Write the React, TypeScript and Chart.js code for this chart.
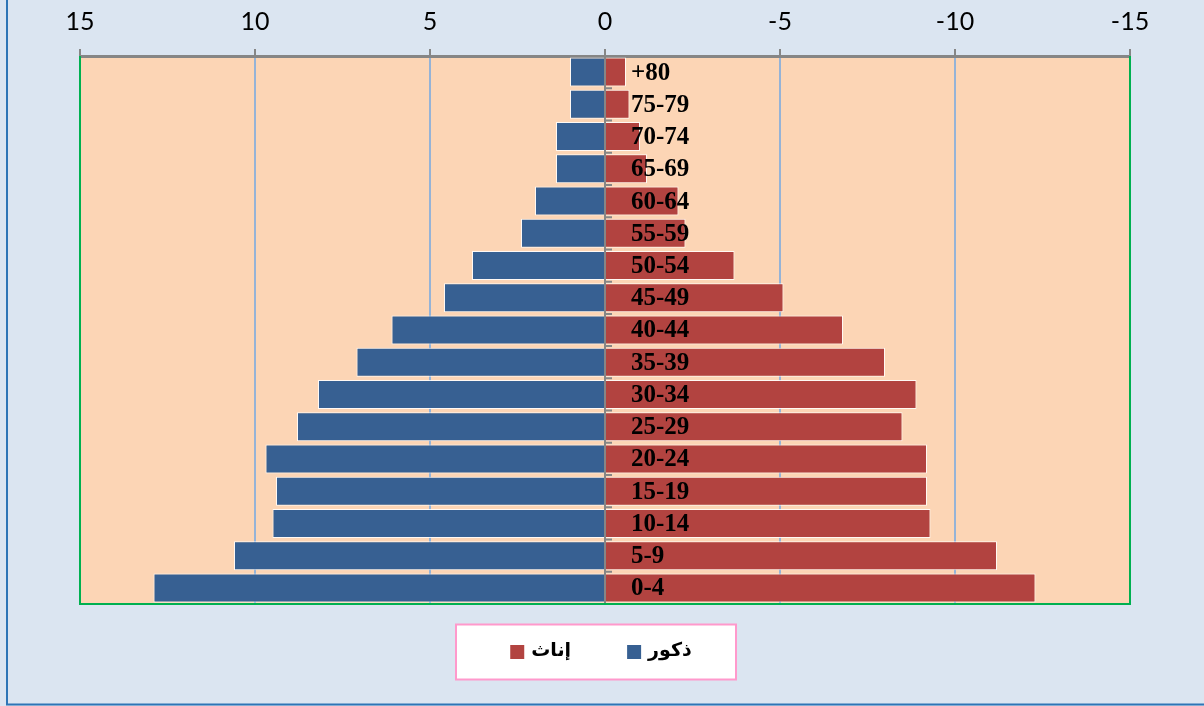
import React, { useEffect, useRef } from "react";
import { Chart, registerables } from "chart.js";

Chart.register(...registerables);

// Age groups (bottom to top)
const ageGroups = [
  "0-4", "5-9", "10-14", "15-19", "20-24", "25-29", "30-34", "35-39",
  "40-44", "45-49", "50-54", "55-59", "60-64", "65-69", "70-74", "75-79", "+80",
];
// Males (shown to the left, positive values)
const males = [12.9, 10.6, 9.5, 9.4, 9.7, 8.8, 8.2, 7.1, 6.1, 4.6, 3.8, 2.4, 2.0, 1.4, 1.4, 1.0, 1.0];
// Females (shown to the right, negative values)
const females = [-12.3, -11.2, -9.3, -9.2, -9.2, -8.5, -8.9, -8.0, -6.8, -5.1, -3.7, -2.3, -2.1, -1.2, -1.0, -0.7, -0.6];

const maleLabel = "ذكور";
const femaleLabel = "إناث";

const axisMin = -15;
const axisMax = 15;
const axisStep = 5;

const MALE_COLOR = "#376092";
const FEMALE_COLOR = "#B24340";

const decorPlugin = {
  id: "decor",
  beforeDraw(chart: any) {
    const { ctx, width, height, chartArea: a } = chart;
    ctx.save();
    ctx.fillStyle = "#DBE5F1";
    ctx.fillRect(0, 0, width, height);
    // outer frame (left and bottom edges visible)
    ctx.strokeStyle = "#2E75B6";
    ctx.lineWidth = 2;
    ctx.beginPath();
    ctx.moveTo(7, 0);
    ctx.lineTo(7, height - 1.5);
    ctx.lineTo(width, height - 1.5);
    ctx.stroke();
    // plot area
    ctx.fillStyle = "#FCD5B5";
    ctx.fillRect(a.left, a.top, a.right - a.left, a.bottom - a.top);
    ctx.restore();
  },
  afterDatasetsDraw(chart: any) {
    const { ctx, chartArea: a } = chart;
    const xs = chart.scales.x;
    const ys = chart.scales.y;
    const x0 = xs.getPixelForValue(0);
    const n = chart.data.labels.length;
    ctx.save();
    // zero axis line
    ctx.strokeStyle = "#868686";
    ctx.lineWidth = 2;
    ctx.beginPath();
    ctx.moveTo(x0, a.top);
    ctx.lineTo(x0, a.bottom);
    ctx.stroke();
    // small tick marks at category boundaries
    ctx.beginPath();
    for (let i = 0; i <= n; i++) {
      const yb = ys.getPixelForValue(i - 0.5);
      ctx.moveTo(x0, yb);
      ctx.lineTo(x0 + 7, yb);
    }
    ctx.stroke();
    // green plot border (left, bottom, right)
    ctx.strokeStyle = "#00B050";
    ctx.lineWidth = 2;
    ctx.beginPath();
    ctx.moveTo(a.left, a.top);
    ctx.lineTo(a.left, a.bottom);
    ctx.lineTo(a.right, a.bottom);
    ctx.lineTo(a.right, a.top);
    ctx.stroke();
    // category labels right of the zero axis
    ctx.fillStyle = "#000";
    ctx.font = 'bold 25px "Liberation Serif", "Times New Roman", serif';
    ctx.textAlign = "left";
    ctx.textBaseline = "middle";
    chart.data.labels.forEach((lab: string, i: number) => {
      ctx.fillText(lab, x0 + 26, ys.getPixelForValue(i) + 1);
    });
    ctx.restore();
  },
  afterDraw(chart: any) {
    const { ctx, chartArea: a } = chart;
    const items = chart.data.datasets.map((ds: any) => ({ text: ds.label, color: ds.backgroundColor }));
    ctx.save();
    ctx.font = 'bold 19px "DejaVu Sans", sans-serif';
    const box = 14;
    const gapBT = 7;
    const gapItems = 56;
    const widths = items.map((it: any) => box + gapBT + ctx.measureText(it.text).width);
    const total = widths.reduce((s: number, w: number) => s + w, 0) + gapItems * (items.length - 1);
    const cx = (a.left + a.right) / 2 - 4;
    const cy = a.bottom + 48;
    // legend frame
    const bw = 280;
    const bh = 55;
    const bcx = cx - 5;
    ctx.fillStyle = "#FFFFFF";
    ctx.fillRect(bcx - bw / 2, cy - bh / 2, bw, bh);
    ctx.strokeStyle = "#FF99CC";
    ctx.lineWidth = 2;
    ctx.strokeRect(bcx - bw / 2, cy - bh / 2, bw, bh);
    // items placed right-to-left
    let x = cx + total / 2;
    items.forEach((it: any, i: number) => {
      x -= widths[i];
      ctx.fillStyle = it.color;
      ctx.fillRect(x, cy - box / 2, box, box);
      ctx.fillStyle = "#000";
      ctx.textAlign = "left";
      ctx.textBaseline = "middle";
      ctx.fillText(it.text, x + box + gapBT, cy - 1);
      x -= gapItems;
    });
    ctx.restore();
  },
};

export default function App() {
  const canvasRef = useRef<HTMLCanvasElement | null>(null);

  useEffect(() => {
    if (!canvasRef.current) return;
    const chart = new Chart(canvasRef.current, {
      type: "bar",
      data: {
        labels: ageGroups,
        datasets: [
          {
            label: maleLabel,
            data: males,
            backgroundColor: MALE_COLOR,
            borderColor: "rgba(255,255,255,0.85)",
            borderWidth: 1,
            grouped: false,
            barPercentage: 0.9,
            categoryPercentage: 1.0,
          },
          {
            label: femaleLabel,
            data: females,
            backgroundColor: FEMALE_COLOR,
            borderColor: "rgba(255,255,255,0.85)",
            borderWidth: 1,
            grouped: false,
            barPercentage: 0.9,
            categoryPercentage: 1.0,
          },
        ],
      },
      options: {
        indexAxis: "y",
        responsive: false,
        animation: false,
        layout: { padding: { left: 80, right: 74, top: 0, bottom: 102 } },
        plugins: {
          legend: { display: false },
          tooltip: { enabled: false },
          title: { display: false },
        },
        scales: {
          x: {
            type: "linear",
            position: "top",
            min: axisMin,
            max: axisMax,
            reverse: true,
            afterFit: (scale: any) => {
              scale.height = 56;
            },
            ticks: {
              stepSize: axisStep,
              color: "#000",
              font: { family: "Lato, 'Open Sans', sans-serif", size: 25 },
              padding: 12,
              maxRotation: 0,
              autoSkip: false,
            },
            grid: {
              color: (ctx: any) => {
                const v = ctx.tick ? ctx.tick.value : 0;
                return v === 0 || Math.abs(v) === axisMax ? "rgba(0,0,0,0)" : "#95B3D7";
              },
              lineWidth: 2,
              tickColor: "#868686",
              tickLength: 7,
              tickWidth: 2,
            },
            border: { display: true, color: "#868686", width: 3 },
          },
          y: {
            type: "category",
            reverse: true,
            display: false,
            grid: { display: false },
          },
        },
      },
      plugins: [decorPlugin],
    });
    return () => chart.destroy();
  }, []);

  return (
    <div style={{ position: "fixed", left: 0, top: 0, width: 1204, height: 706 }}>
      <canvas ref={canvasRef} width={1204} height={706} style={{ display: "block", width: 1204, height: 706 }} />
    </div>
  );
}
